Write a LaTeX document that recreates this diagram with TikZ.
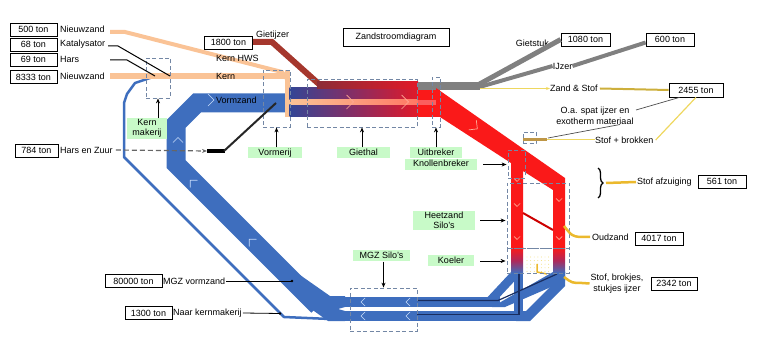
\documentclass[tikz,border=0pt]{standalone}
\usepackage{fontspec}
\setmainfont{Liberation Sans}
\usetikzlibrary{arrows.meta,decorations.pathreplacing}
\newcommand\myfs{\fontsize{9}{10}\selectfont}
\definecolor{cblue}{RGB}{62,110,190}
\definecolor{cnavy}{RGB}{25,45,95}
\definecolor{cdblue}{RGB}{50,70,150}
\definecolor{cmid}{RGB}{135,45,100}
\definecolor{cred}{RGB}{250,25,25}
\definecolor{cred2}{RGB}{225,25,40}
\definecolor{ccrim}{RGB}{175,40,90}
\definecolor{cpeach}{RGB}{250,195,150}
\definecolor{csalmon}{RGB}{255,120,100}
\definecolor{cbrown}{RGB}{165,55,45}
\definecolor{cbrown2}{RGB}{140,45,55}
\definecolor{cgray}{RGB}{128,128,128}
\definecolor{cgold}{RGB}{235,185,45}
\definecolor{cpale}{RGB}{238,215,95}
\definecolor{colive}{RGB}{190,150,70}
\definecolor{colive2}{RGB}{205,175,60}
\definecolor{cgreen}{RGB}{200,250,200}
\definecolor{cdash}{RGB}{115,135,165}
\definecolor{cpink}{RGB}{255,170,150}
\definecolor{cltblue}{RGB}{200,220,250}
\begin{document}
\begin{tikzpicture}[x=1pt,y=-1pt,
  tbox/.style={draw=black, line width=0.7pt, fill=white, inner sep=1pt, minimum height=13pt, font=\myfs},
  lbl/.style={inner sep=0pt, font=\myfs},
  gbox/.style={fill=cgreen, inner sep=1pt, font=\myfs, align=center},
  gbox1/.style={gbox, text height=7pt, text depth=2pt},
  dbox/.style={draw=cdash, dash pattern=on 4pt off 2.5pt, line width=0.8pt, inner sep=0pt},
  arr/.style={-{Stealth[length=5pt,width=4pt]}, line width=0.8pt},
  chv/.pic={\draw[line width=0.7pt, line cap=round] (-0.5,-1) -- (0.5,0) -- (-0.5,1);}
]
\useasboundingbox (0,0) rectangle (758,358);

% ---------- blue flows ----------
\draw[cblue, line width=2.5pt, line join=round] (153,77) -- (135,83) -- (127,94) -- (124,103) -- (124,157) -- (284,317) -- (330,319);
\draw[cblue, line width=19pt, line join=miter] (286,103) -- (197,103) -- (176,124) -- (176,164) -- (318,306);
\fill[cblue] (300,275) -- (330,296) -- (345,296) -- (345,307) -- (338,309) -- (345,311) -- (345,321) -- (328,321) -- (300,301) -- cycle;
\fill[cblue] (343,297) rectangle (500,307);
\fill[cblue] (343,311) rectangle (526,321);
\fill[cblue] (511,272) -- (523,272) -- (495,302) -- (483,302) -- cycle;
\fill[cblue] (553,272) -- (565,272) -- (565,281) -- (505,307) -- (492,307) -- cycle;
\fill[cblue] (553,272) -- (565,272) -- (565,286) -- (530,321) -- (516,321) -- (553,284) -- cycle;
\fill[cblue] (514,272) rectangle (523,316);
\draw[cnavy, line width=1.2pt] (417,300.5) -- (498,300.5) -- (557,274);
\draw[cnavy, line width=1.2pt] (417,314.5) -- (519,314.5);
\draw[cnavy, line width=2.5pt] (519,274) -- (519,315);

% ---------- peach, brown ----------
\draw[cpeach, line width=4pt] (110,32) -- (125,32) -- (282,72) -- (287,79);
\draw[cpeach, line width=6pt] (110,76) -- (286,76);
\fill[cpeach] (285,70) rectangle (289.5,117);
\draw[cbrown, line width=6pt] (253,42) -- (272,42) -- (320,85);

% ---------- central band ----------
\shade[left color=cdblue, right color=cred2, middle color=cmid] (289.5,88) rectangle (418,117);
\shade[left color=cbrown2, right color=cred2] (317,82) rectangle (418,88.5);
\shade[left color=cpeach, right color=csalmon] (289.5,100) rectangle (418,105);
\fill[cred] (418,88) rectangle (440,117);
\fill[cred!70!white] (418,100) rectangle (438,105);
\fill[cgray] (418,82) rectangle (480,90);

% ---------- red flows ----------
\fill[cred] (436,88) -- (565,178) -- (565,250) -- (553,250) -- (553,190) -- (523,171) -- (523,250) -- (511,250) -- (511,163) -- (440,117) -- (436,117) -- cycle;
\shade[top color=cred, bottom color=cblue, middle color=ccrim] (511,248) rectangle (523,273);
\shade[top color=cred, bottom color=cblue, middle color=ccrim] (553,248) rectangle (565,273);
\draw[red!80!black, line width=2pt] (523,213) -- (553,230);
\foreach \i in {0,...,6} \foreach \j in {0,...,4} \fill[cpale] (527+\i*3.6, 257+\j*3.6) circle (0.45);
\draw[cgold, line width=1.5pt] (537,264) -- (537,272) -- (547,274);

% ---------- chevrons ----------
\path (350,102) pic[cpink, scale=7]{chv};
\path (405,102) pic[cpink, scale=7]{chv};
\path (211,100) pic[cltblue, scale=6]{chv};
\path (178,140) pic[cltblue, scale=5, rotate=90]{chv};
\path (192,182) pic[cltblue, scale=5, rotate=135]{chv};
\path (251,241) pic[cltblue, scale=5, rotate=135]{chv};
\foreach \p in {(363,302),(408,302),(363,316),(408,316)} \path \p pic[cltblue, scale=4, rotate=180]{chv};
\path (475,127) pic[cpink, scale=6, rotate=-38]{chv};
\foreach \p in {(517,180),(517,205),(517,238),(559,200),(559,238)} \path \p pic[cpink, scale=3, rotate=-90]{chv};

% ---------- dashed boxes ----------
\node[dbox, minimum width=24pt, minimum height=40pt] (dKM) at (158,78) {};
\node[dbox, minimum width=27pt, minimum height=57pt] (dV) at (276.5,98.5) {};
\node[dbox, minimum width=110pt, minimum height=48pt] (dG) at (362,103) {};
\node[dbox, minimum width=8pt, minimum height=50pt] (dU) at (436,102) {};
\node[dbox, minimum width=17pt, minimum height=28pt] (dKB) at (516.5,164) {};
\node[dbox, minimum width=13pt, minimum height=11pt] (dSB) at (529.5,137.5) {};
\node[dbox, minimum width=62pt, minimum height=65pt] (dHZ) at (538,215.5) {};
\node[dbox, minimum width=62pt, minimum height=25pt] (dKO) at (538,260.5) {};
\node[dbox, minimum width=67pt, minimum height=43pt] (dMGZ) at (383.5,309.5) {};

% ---------- value boxes and labels ----------
\node[tbox, minimum width=47pt] (b500) at (33.5,29.5) {500 ton};
\node[tbox, minimum width=47pt] (b68) at (33.5,44.5) {68 ton};
\node[tbox, minimum width=47pt] (b69) at (33.5,59.5) {69 ton};
\node[tbox, minimum width=47pt] (b8333) at (33.5,77) {8333 ton};
\node[lbl, anchor=west] (lNZ1) at (60,29) {Nieuwzand};
\node[lbl, anchor=west] (lKat) at (60,44) {Katalysator};
\node[lbl, anchor=west] (lHars) at (60,59) {Hars};
\node[lbl, anchor=west] (lNZ2) at (60,76) {Nieuwzand};
\node[tbox, minimum width=48pt] (b1800) at (228.5,42.5) {1800 ton};
\node[lbl, anchor=west] (lGI) at (256,35) {Gietijzer};
\node[lbl, anchor=west] (lKH) at (216,58) {Kern HWS};
\node[lbl, anchor=west] (lK) at (216,76) {Kern};
\node[lbl, anchor=west] (lVZ) at (216,100) {Vormzand};
\node[tbox, minimum width=106pt, minimum height=18pt] (title) at (396,37) {Zandstroomdiagram};
\node[tbox, minimum width=49pt] (b1080) at (585.5,39.5) {1080 ton};
\node[tbox, minimum width=48pt] (b600) at (670,39.5) {600 ton};
\node[lbl, anchor=east] (lGS) at (549,43) {Gietstuk};
\node[lbl] (lIJ) at (562.5,66) {IJzer};
\node[lbl, anchor=west] (lZS) at (550,88.5) {Zand \& Stof};
\node[tbox, minimum width=54pt, minimum height=14pt] (b2455) at (696,90) {2455 ton};
\node[lbl, align=center, font=\fontsize{9}{11}\selectfont] (lOa) at (595,115.5) {O.a. spat ijzer en\\exotherm materiaal};
\node[lbl, anchor=west] (lSB) at (595,140) {Stof + brokken};
\node[tbox, minimum width=43pt] (b784) at (36.5,150.5) {784 ton};
\node[lbl, anchor=west] (lHZ) at (60,150) {Hars en Zuur};
\node[tbox, minimum width=57pt] (b80000) at (133.5,281) {80000 ton};
\node[lbl, anchor=west] (lMGZ) at (163,281) {MGZ vormzand};
\node[tbox, minimum width=47pt] (b1300) at (148.5,313) {1300 ton};
\node[lbl, anchor=west] (lNK) at (173,313) {Naar kernmakerij};
\node[lbl, anchor=west] (lSA) at (637,182) {Stof afzuiging};
\node[tbox, minimum width=48pt] (b561) at (722,181.5) {561 ton};
\node[lbl, anchor=west] (lOud) at (592,237) {Oudzand};
\node[tbox, minimum width=48pt] (b4017) at (659,238.5) {4017 ton};
\node[lbl, align=center, font=\fontsize{9}{11}\selectfont] (lSBk) at (617,283.5) {Stof, brokjes,\\stukjes ijzer};
\node[tbox, minimum width=46pt] (b2342) at (674,283.5) {2342 ton};

% ---------- green labels ----------
\node[gbox, minimum width=40pt] (gKM) at (147,128.5) {Kern\\makerij};
\node[gbox1, minimum width=54pt] (gV) at (275,153) {Vormerij};
\node[gbox1, minimum width=53pt] (gG) at (363.5,153) {Giethal};
\node[gbox1, minimum width=52pt] (gU) at (436,153) {Uitbreker};
\node[gbox1, minimum width=72pt] (gKB) at (441,164.5) {Knollenbreker};
\node[gbox, minimum width=62pt] (gHZ) at (444,220.5) {Heetzand\\Silo's};
\node[gbox1, minimum width=46pt] (gKO) at (451,261) {Koeler};
\node[gbox1, minimum width=57pt] (gMGZ) at (381.5,256) {MGZ Silo's};

% ---------- arrows ----------
\draw[arr] (gKM.north -| dKM.south) -- (dKM.south);
\draw[arr] (gV.north -| dV.south) -- (dV.south);
\draw[arr] (gG.north -| dG.south) -- (dG.south);
\draw[arr] (gU.north) -- (dU.south);
\draw[arr] ([xshift=6pt]gKB.east) -- ([xshift=-1pt]gKB.east -| dKB.west);
\draw[arr] ([xshift=5pt]gHZ.east) -- ([xshift=-1pt]gHZ.east -| dHZ.west);
\draw[arr] ([xshift=6pt]gKO.east) -- ([xshift=-1pt]gKO.east -| dKO.west);
\draw[arr] (gMGZ.south -| dMGZ.north) -- (dMGZ.north);

% ---------- connectors ----------
\coordinate (kat0) at (108,46);
\coordinate (hars0) at (110,60);
\draw[line width=1pt] (kat0) -- (118,46) -- (170,76);
\draw[line width=1pt] (hars0) -- (127,60) -- (155,76);
\draw[black!60, line width=1.2pt, dash pattern=on 5pt off 3pt, -{Stealth[length=5pt,width=4pt]}] ([xshift=3pt]lHZ.east) -- (207,151);
\draw[black, line width=3.5pt] (207,151) -- (225,151);
\draw[black!85, line width=2pt] (224,151) -- (276,103);
\coordinate (pMGZ) at (292,281);
\coordinate (pNK) at (280,313.5);
\draw[line width=0.8pt] ([xshift=1pt]lMGZ.east) -- (pMGZ);
\fill (pMGZ) circle (1.4);
\draw[line width=0.8pt] ([xshift=1pt]lNK.east) -- (pNK);
\fill (pNK) circle (1.4);

\draw[cgray, line width=5pt] (476,86) -- (b1080.west);
\draw[cgray, line width=4pt] (476,88) -- (lIJ.west);
\draw[cgray, line width=4pt] (lIJ.east) -- ([yshift=-3pt]b600.west);
\draw[cpale, line width=0.9pt, -{Stealth[length=4pt,width=3pt]}] (480,88.5) -- (lZS.west);
\draw[colive2, line width=2pt] ([xshift=2pt]lZS.east) -- (b2455.west);
\draw[black!70, line width=0.7pt] (636,110) -- ([xshift=11pt]b2455.south west);
\draw[black!70, line width=0.7pt] ([xshift=25pt]lOa.south) -- (548,138);
\draw[colive, line width=3pt] (523,140) -- (547,140);
\draw[cpale, line width=1pt] (547,140) -- (lSB.west);
\draw[cpale, line width=1.2pt] ([xshift=2pt]lSB.east) -- (b2455.south);

\draw[decorate, decoration={brace, amplitude=5pt}, line width=1.3pt] (598,168) -- (598,198);
\draw[cgold, line width=2.5pt] (606,183) -- ([xshift=-1pt]lSA.west);
\draw[cgold, line width=2.5pt] (564,226) .. controls (572,236) .. (580,237) -- ([xshift=-2pt]lOud.west);
\draw[cgold, line width=2.5pt] (564,277) .. controls (572,283) .. (582,283) -- ([xshift=-1pt]lSBk.west);
\end{tikzpicture}
\end{document}
